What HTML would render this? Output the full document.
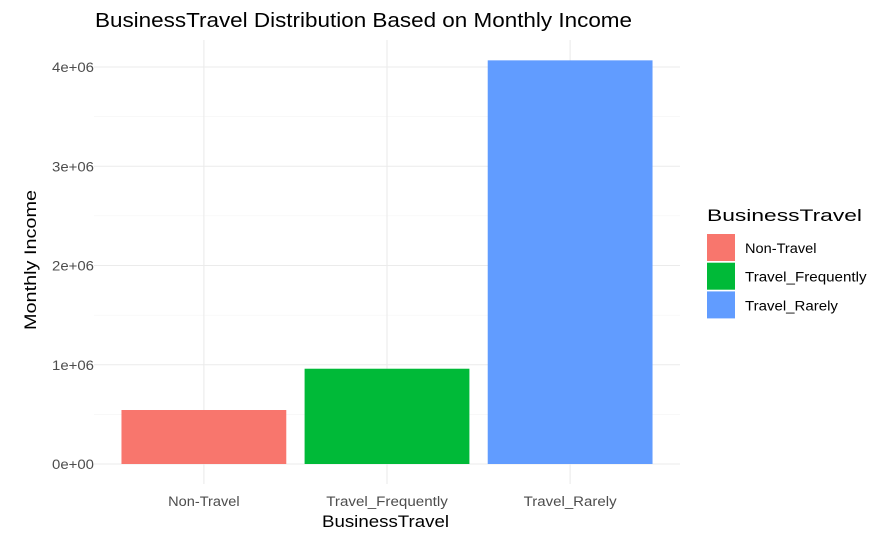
<!DOCTYPE html>
<html><head><meta charset="utf-8"><style>
body{margin:0;background:#fff;font-family:"Liberation Sans",sans-serif}
</style></head><body>
<svg id="c" width="878" height="544" font-family="Liberation Sans, sans-serif"></svg>
<script>
const categories=["Non-Travel","Travel_Frequently","Travel_Rarely"];
const values=[544000,960000,4067000];
const colors=["#F8766D","#00BA38","#619CFF"];
const yTicks=[0,1000000,2000000,3000000,4000000];
const yTickLabels=["0e+00","1e+06","2e+06","3e+06","4e+06"];
const svg=document.getElementById('c');
const NS='http://www.w3.org/2000/svg';
const L=94,R=680,Y0=464,Y4=67;
const step=(R-L)/3.2;
function x(i){return L+(i+0.6)*step;}
function y(v){return Y0-(Y0-Y4)*v/4000000;}
function mk(t,a,txt){const e=document.createElementNS(NS,t);for(const k in a)e.setAttribute(k,a[k]);if(txt!=null)e.textContent=txt;svg.appendChild(e);return e;}
function tl(s){return s.length*7.15;}
for(let k=0;k<yTicks.length;k++){
  const g=mk('line',{x1:L,x2:R,y1:y(yTicks[k]),y2:y(yTicks[k]),stroke:'#ebebeb','stroke-width':1.1});
  
  
  if(k<yTicks.length-1){
    const m=(yTicks[k]+yTicks[k+1])/2;
    const gm=mk('line',{x1:L,x2:R,y1:y(m),y2:y(m),stroke:'#f2f2f2','stroke-width':0.6});
    
    
  }
  const t=mk('text',{x:L-84+68-26,y:y(yTicks[k])+5,'font-size':13.5,fill:'#4d4d4d',textLength:42,lengthAdjust:'spacingAndGlyphs'},yTickLabels[k]);
  
  
}
for(let i=0;i<categories.length;i++){
  const g=mk('line',{x1:x(i),x2:x(i),y1:40,y2:484,stroke:'#ebebeb','stroke-width':1.1});
  
  
}
for(let i=0;i<categories.length;i++){
  const w=0.9*step;
  const b=mk('rect',{x:x(i)-w/2,y:y(values[i]),width:w,height:Y0-y(values[i]),fill:colors[i]});
  
  
  const len=tl(categories[i]);
  const t=mk('text',{x:x(i)-len/2,y:506,'font-size':13.5,fill:'#4d4d4d',textLength:len,lengthAdjust:'spacingAndGlyphs'},categories[i]);
  
  
  const k=mk('rect',{x:707,y:234+i*28.7,width:28,height:27,fill:colors[i]});
  
  
  const lt=mk('text',{x:745,y:253+i*28.7,'font-size':13.5,fill:'#000',textLength:len,lengthAdjust:'spacingAndGlyphs'},categories[i]);
  
  
}
</script>
<svg style="position:absolute;left:0;top:0" width="878" height="544" font-family="Liberation Sans, sans-serif">
<text x="95" y="27" font-size="20" fill="#000" textLength="537" lengthAdjust="spacingAndGlyphs">BusinessTravel Distribution Based on Monthly Income</text>
<text x="322" y="527" font-size="16.5" fill="#000" textLength="127" lengthAdjust="spacingAndGlyphs">BusinessTravel</text>
<text transform="translate(36,330) rotate(-90)" font-size="16.5" fill="#000" textLength="140" lengthAdjust="spacingAndGlyphs">Monthly Income</text>
<text x="707" y="221" font-size="16.5" fill="#000" textLength="155" lengthAdjust="spacingAndGlyphs">BusinessTravel</text>
</svg>
</body></html>
